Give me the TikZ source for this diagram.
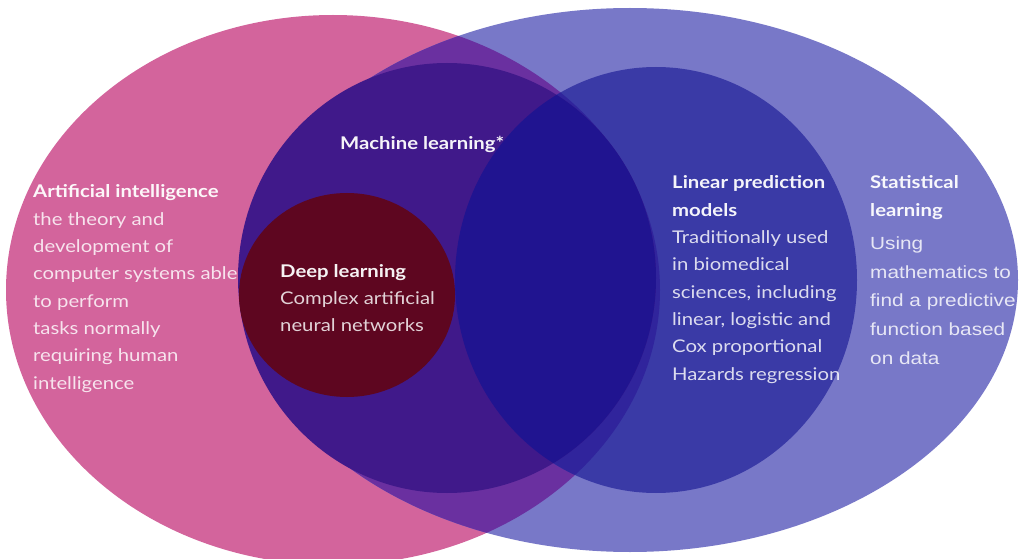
\documentclass[tikz,border=0pt]{standalone}
\usepackage{fontspec}
\newfontfamily\geofont[FakeStretch=1.16]{Lato}
\newfontfamily\arialfont[FakeStretch=1.18]{Liberation Sans}

% region colours
\definecolor{aipink}{HTML}{D3649C}
\definecolor{statblue}{HTML}{7878C8}
\definecolor{bothpurple}{HTML}{6A30A0}
\definecolor{linblue}{HTML}{3A3AA6}
\definecolor{linpink}{HTML}{30249C}
\definecolor{mlpurple}{HTML}{40198A}
\definecolor{mlnavy}{HTML}{201490}
\definecolor{dlmaroon}{HTML}{5E0620}

\tikzset{
  title/.style={inner sep=0pt, anchor=base west, text=white, text opacity=0.95,
    font=\geofont\bfseries\fontsize{17.5}{21}\selectfont},
  body/.style={inner sep=0pt, anchor=base west, text=white, text opacity=0.82,
    font=\geofont\fontsize{17.5}{21}\selectfont},
  armbody/.style={inner sep=0pt, anchor=base west, text=white, text opacity=0.82,
    font=\arialfont\fontsize{17.6}{21}\selectfont},
}

\def\aipath{(333,290) ellipse [x radius=327, y radius=275]}
\def\statpath{(630,280) ellipse [x radius=388, y radius=272]}
\def\linpath{(656,280) ellipse [x radius=201, y radius=213]}
\def\mlpath{(447,278) ellipse [x radius=209, y radius=215]}
\def\dlpath{(347,295) ellipse [x radius=108, y radius=102]}

\begin{document}
\begin{tikzpicture}[x=1pt,y=-1pt]
\useasboundingbox (0,0) rectangle (1021,559);
\fill[white] (0,0) rectangle (1021,559);
\clip (0,0) rectangle (1021,559);

% artificial intelligence and statistical learning
\fill[aipink] \aipath;
\fill[statblue] \statpath;
\begin{scope}
  \clip \aipath;
  \fill[bothpurple] \statpath;
\end{scope}

% linear prediction models
\fill[linblue] \linpath;
\begin{scope}
  \clip \aipath;
  \fill[linpink] \linpath;
\end{scope}

% machine learning
\fill[mlpurple] \mlpath;
\begin{scope}
  \clip \mlpath;
  \fill[mlnavy] \linpath;
\end{scope}

% deep learning
\fill[dlmaroon] \dlpath;

% texts
\node[title] (ai-t) at (33,198) {Artificial intelligence};
\foreach \t [count=\i] in {the theory and, development of, computer systems able,
    to perform, tasks normally, requiring human, intelligence}
  \node[body] (ai-\i) at (33,{198+\i*27.3}) {\t};

\node[title] (ml-t) at (340,150) {Machine learning*};

\node[title] (dl-t) at (280,277) {Deep learning};
\node[body] (dl-1) at (280,304.3) {Complex artificial};
\node[body] (dl-2) at (280,331.6) {neural networks};

\node[title] (lp-t1) at (672,189) {Linear prediction};
\node[title] (lp-t2) at (672,216.3) {models};
\foreach \t [count=\i] in {Traditionally used, in biomedical, {sciences, including},
    {linear, logistic and}, Cox proportional, Hazards regression}
  \node[body] (lp-\i) at (672,{216.3+\i*27.3}) {\t};

\node[title] (sl-t1) at (870,189) {Statistical};
\node[title] (sl-t2) at (870,216.3) {learning};
\foreach \t [count=\i] in {Using, mathematics to, find a predictive,
    function based, on data}
  \node[armbody] (sl-\i) at (870,{249.3+(\i-1)*28.7}) {\t};
\end{tikzpicture}
\end{document}
